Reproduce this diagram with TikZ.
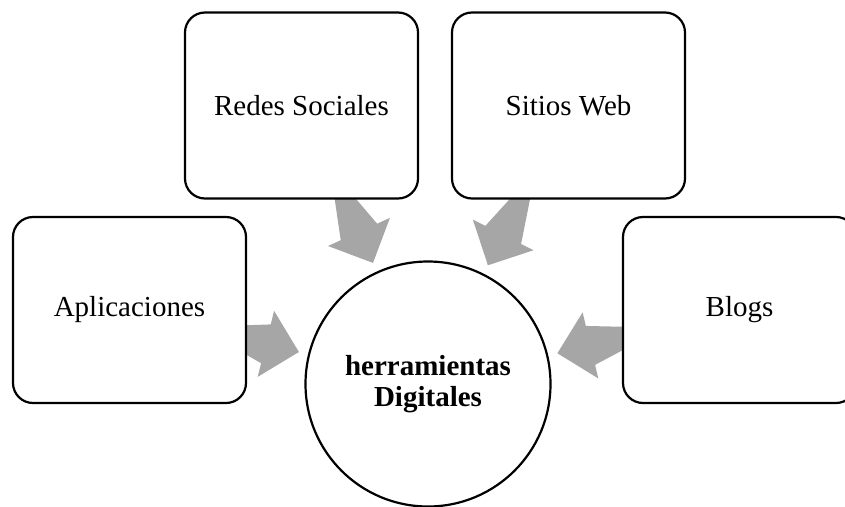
\documentclass[tikz,border=0pt]{standalone}
\usepackage{fontspec}
\setmainfont{Liberation Serif}
\usetikzlibrary{calc,backgrounds}
\definecolor{arrowgray}{RGB}{166,166,166}
\tikzset{
  itembox/.style={draw=black, line width=2.2pt, fill=white, rounded corners=20pt,
    minimum width=233pt, minimum height=186pt, inner sep=0pt,
    font=\fontsize{29}{31}\selectfont},
  hub/.style={circle, draw=black, line width=2.2pt, fill=white, minimum size=245pt,
    inner sep=0pt, align=center, font=\fontsize{29}{31}\selectfont\bfseries},
  blockarrow/.style={fill=arrowgray, draw=none}
}
\newcommand{\blockarrow}[2]{%
  \fill[blockarrow]
    ($(#1)!20pt!90:(#2)$) --
    ($($(#2)!167pt!(#1)$)!20pt!-90:(#2)$) --
    ($($(#2)!167pt!(#1)$)!34pt!-90:(#2)$) --
    ($(#2)!133pt!(#1)$) --
    ($($(#2)!167pt!(#1)$)!34pt!90:(#2)$) --
    ($($(#2)!167pt!(#1)$)!20pt!90:(#2)$) --
    ($(#1)!20pt!-90:(#2)$) -- cycle;
}
\begin{document}
\begin{tikzpicture}[x=1pt,y=-1pt]
  \useasboundingbox (0,0) rectangle (845,506);
  \node[itembox] (apps) at (129.5,310) {Aplicaciones};
  \node[itembox] (redes) at (301.5,105.5) {Redes Sociales};
  \node[itembox] (sitios) at (568.5,105.5) {Sitios Web};
  \node[itembox] (blogs) at (739.5,310) {Blogs};
  \node[hub] (hub) at (428,384) {herramientas\\Digitales};
  \begin{scope}[on background layer]
    \blockarrow{apps.center}{hub.center}
    \blockarrow{redes.center}{hub.center}
    \blockarrow{sitios.center}{hub.center}
    \blockarrow{blogs.center}{hub.center}
  \end{scope}
\end{tikzpicture}
\end{document}
